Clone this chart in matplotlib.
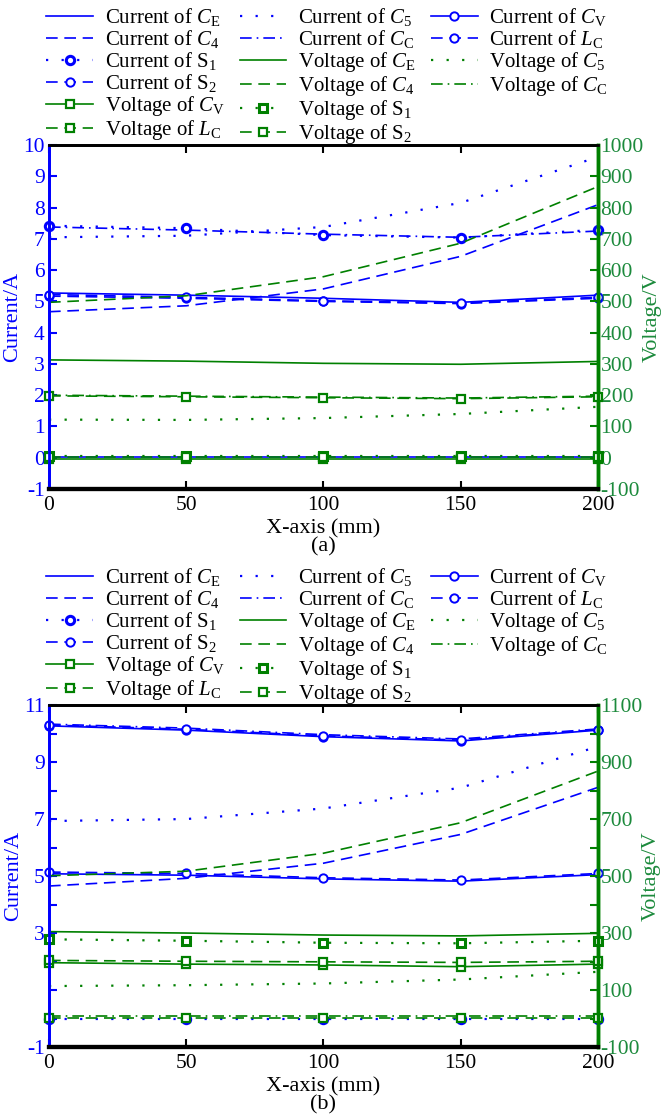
import matplotlib
matplotlib.use('Agg')
import matplotlib.pyplot as plt
from matplotlib.lines import Line2D

plt.rcParams['font.family'] = ['Liberation Serif', 'DejaVu Serif']
plt.rcParams['mathtext.fontset'] = 'custom'
plt.rcParams['mathtext.rm'] = 'Liberation Serif'
plt.rcParams['mathtext.it'] = 'Liberation Serif:italic'
plt.rcParams['axes.unicode_minus'] = False

BLUE = '#0000ff'
GREEN = '#008000'
GREEN_TXT = '#1c8a3c'

x_mm = [0, 50, 100, 150, 200]

# (a) 电流 / A
a_i_ce = [5.27, 5.20, 5.10, 4.97, 5.20]
a_i_c4 = [4.67, 4.86, 5.40, 6.44, 8.09]
a_i_c5 = [7.05, 7.10, 7.38, 8.15, 9.62]
a_i_cc = [7.38, 7.28, 7.15, 7.05, 7.25]
a_i_cv = [0.02, 0.02, 0.02, 0.02, 0.02]
a_i_lc = [5.17, 5.10, 5.00, 4.93, 5.10]
a_i_s1 = [7.42, 7.34, 7.12, 7.04, 7.29]
a_i_s2 = [5.22, 5.13, 5.02, 4.95, 5.13]
# (a) 电压 / V
a_v_ce = [313, 309, 302, 299, 308]
a_v_c4 = [497, 518, 579, 686, 867]
a_v_c5 = [122, 121, 127, 140, 163]
a_v_cc = [200, 197, 194, 191, 197]
a_v_cv = [-4, -4, -4, -4, -4]
a_v_lc = [198, 195, 192, 189, 195]
a_v_s1 = [7, 7, 7, 7, 7]
a_v_s2 = [2, 2, 2, 2, 2]

# (b) 电流 / A
b_i_ce = [5.08, 5.03, 4.90, 4.82, 5.05]
b_i_c4 = [4.65, 4.92, 5.45, 6.46, 8.11]
b_i_c5 = [6.93, 7.00, 7.37, 8.10, 9.54]
b_i_cc = [10.33, 10.19, 9.96, 9.81, 10.16]
b_i_cv = [10.27, 10.12, 9.89, 9.74, 10.12]
b_i_lc = [10.30, 10.15, 9.92, 9.77, 10.14]
b_i_s1 = [-0.03, -0.03, -0.03, -0.03, -0.03]
b_i_s2 = [5.14, 5.09, 4.94, 4.86, 5.09]
# (b) 电压 / V
b_v_ce = [305, 300, 293, 290, 299]
b_v_c4 = [501, 517, 580, 687, 868]
b_v_c5 = [114, 117, 123, 137, 164]
b_v_cc = [8, 8, 8, 8, 8]
b_v_cv = [196, 191, 188, 182, 191]
b_v_lc = [204, 201, 199, 197, 201]
b_v_s1 = [278, 273, 266, 264, 273]
b_v_s2 = [1, 1, 1, 1, 1]

names = {'ce': r'$C_\mathrm{E}$', 'c4': r'$C_\mathrm{4}$', 'c5': r'$C_\mathrm{5}$',
         'cc': r'$C_\mathrm{C}$', 'cv': r'$C_\mathrm{V}$', 'lc': r'$L_\mathrm{C}$',
         's1': r'S$_\mathrm{1}$', 's2': r'S$_\mathrm{2}$'}

DASH = (0, (7, 4))
DOT = (0, (1, 6))
DASHDOT = (0, (7, 3, 1, 3))
styles = {'ce': dict(ls='-'), 'c4': dict(ls=DASH), 'c5': dict(ls=DOT, lw=1.6),
          'cc': dict(ls=DASHDOT), 'cv': dict(ls='-', marker='o'),
          'lc': dict(ls=DASH, marker='o'), 's1': dict(ls=DOT, lw=1.6, marker='o', mew=2.2),
          's2': dict(ls=DASH, marker='o')}

# 图例顺序（按列排列，末尾补两个空位）
legend_order = [('I', 'ce'), ('I', 'c4'), ('I', 's1'), ('I', 's2'), ('V', 'cv'), ('V', 'lc'),
                ('I', 'c5'), ('I', 'cc'), ('V', 'ce'), ('V', 'c4'), ('V', 's1'), ('V', 's2'),
                ('I', 'cv'), ('I', 'lc'), ('V', 'c5'), ('V', 'cc'), None, None]


def draw_panel(ax, cur, vol, ylim_i, ylim_v, yt_i, yl_i, yt_v, yl_v, tag):
    ax2 = ax.twinx()
    handles = {}
    for key, vals in cur.items():
        st = dict(styles[key])
        lw = st.pop('lw', 1.2)
        m = st.pop('marker', None)
        mew = st.pop('mew', 1.4)
        h, = ax.plot(x_mm, vals, color=BLUE, lw=lw, linestyle=st['ls'], marker=m,
                     markersize=6, markerfacecolor='white', markeredgewidth=mew, clip_on=False)
        handles[('I', key)] = h
    for key, vals in vol.items():
        st = dict(styles[key])
        lw = st.pop('lw', 1.2)
        m = 's' if st.pop('marker', None) else None
        mew = st.pop('mew', 1.6)
        h, = ax2.plot(x_mm, vals, color=GREEN, lw=lw, linestyle=st['ls'], marker=m,
                      markersize=6, markerfacecolor='white', markeredgewidth=mew, clip_on=False)
        handles[('V', key)] = h

    ax.set_xlim(0, 200)
    ax.set_ylim(*ylim_i)
    ax2.set_ylim(*ylim_v)
    ax.set_xticks(x_mm)
    ax.set_yticks(yt_i)
    ax.set_yticklabels(yl_i)
    ax2.set_yticks(yt_v)
    ax2.set_yticklabels(yl_v)

    ax.tick_params(axis='x', direction='in', length=6, width=1.5, top=True,
                   labelsize=15.5, pad=5, colors='black')
    ax.tick_params(axis='y', direction='in', length=6, width=1.5, labelsize=15.5,
                   colors=BLUE, pad=3)
    ax2.tick_params(axis='y', direction='in', length=6, width=1.5, labelsize=15.5,
                    color=GREEN, labelcolor=GREEN_TXT, pad=2)
    for a in (ax, ax2):
        a.spines['left'].set_color(BLUE)
        a.spines['left'].set_linewidth(2)
        a.spines['right'].set_color(GREEN)
        a.spines['right'].set_linewidth(2.5)
        a.spines['bottom'].set_linewidth(3)
        a.spines['top'].set_linewidth(2)

    ax.set_ylabel('Current/A', color=BLUE, fontsize=16, labelpad=1)
    ax2.set_ylabel('Voltage/V', color=GREEN_TXT, fontsize=16, labelpad=-1)
    ax.set_xlabel('X-axis (mm)', fontsize=16, labelpad=3)
    ax.text(0.5, -0.168, tag, transform=ax.transAxes, ha='center', va='center', fontsize=16)

    hs, ls = [], []
    for item in legend_order:
        if item is None:
            hs.append(Line2D([], [], linestyle='none'))
            ls.append('')
        else:
            hs.append(handles[item])
            kind = 'Current of ' if item[0] == 'I' else 'Voltage of '
            ls.append(kind + names[item[1]])
    ax2.legend(hs, ls, ncol=3, loc='lower left', bbox_to_anchor=(-0.005, 0.996),
               frameon=False, fontsize=15, handlelength=2.25, handletextpad=0.56,
               columnspacing=0.7, labelspacing=0.0, borderaxespad=0, borderpad=0)


fig = plt.figure(figsize=(6.62, 11.14), dpi=100)
ax_a = fig.add_axes([0.074, 0.561, 0.829, 0.3088])
ax_b = fig.add_axes([0.074, 0.0601, 0.829, 0.307])

cur_a = {'ce': a_i_ce, 'c4': a_i_c4, 'c5': a_i_c5, 'cc': a_i_cc,
         'cv': a_i_cv, 'lc': a_i_lc, 's1': a_i_s1, 's2': a_i_s2}
vol_a = {'ce': a_v_ce, 'c4': a_v_c4, 'c5': a_v_c5, 'cc': a_v_cc,
         'cv': a_v_cv, 'lc': a_v_lc, 's1': a_v_s1, 's2': a_v_s2}
cur_b = {'ce': b_i_ce, 'c4': b_i_c4, 'c5': b_i_c5, 'cc': b_i_cc,
         'cv': b_i_cv, 'lc': b_i_lc, 's1': b_i_s1, 's2': b_i_s2}
vol_b = {'ce': b_v_ce, 'c4': b_v_c4, 'c5': b_v_c5, 'cc': b_v_cc,
         'cv': b_v_cv, 'lc': b_v_lc, 's1': b_v_s1, 's2': b_v_s2}

yt_a = list(range(-1, 11))
yl_a = [str(v) for v in yt_a]
vt_a = list(range(-100, 1001, 100))
vl_a = [str(v) for v in vt_a]

yt_b = list(range(-1, 12))
yl_b = ['-1', '', '', '', '3', '', '5', '', '7', '', '9', '', '11']
vt_b = list(range(-100, 1101, 100))
vl_b = ['-100', '', '100', '', '300', '', '500', '', '700', '', '900', '', '1100']

draw_panel(ax_a, cur_a, vol_a, (-1, 10), (-100, 1000), yt_a, yl_a, vt_a, vl_a, '(a)')
draw_panel(ax_b, cur_b, vol_b, (-1, 11), (-100, 1100), yt_b, yl_b, vt_b, vl_b, '(b)')

fig.savefig('out.png', dpi=100)
